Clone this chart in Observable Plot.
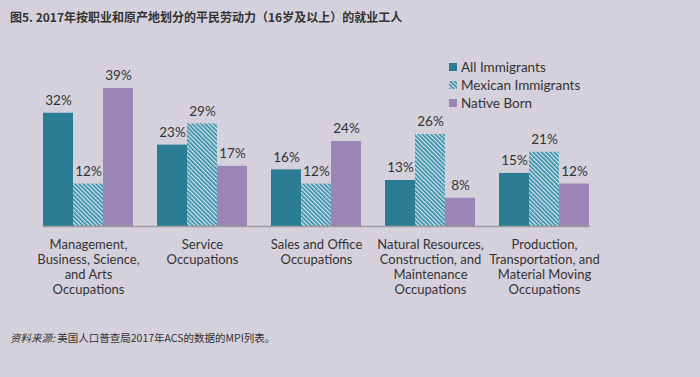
<!DOCTYPE html>
<html>
<head>
<meta charset="utf-8">
<script src="https://cdn.jsdelivr.net/npm/d3@7"></script>
<script src="https://cdn.jsdelivr.net/npm/@observablehq/plot@0.6"></script>
<style>
  html, body { margin: 0; padding: 0; background: #d5d1dc; }
  #wrap { position: relative; width: 700px; height: 377px; background: #d5d1dc; overflow: hidden; }
  #title { height: 34px; line-height: 34px; padding-left: 10px; font-family: "Noto Sans CJK SC", sans-serif; font-weight: bold; font-size: 12px; color: #333; white-space: nowrap; }
  #caption { height: 28px; line-height: 28px; padding-left: 10px; font-family: "Noto Sans CJK SC", sans-serif; font-size: 10.5px; color: #333; white-space: nowrap; }
  #caption i { font-style: italic; }
  #legend { position: absolute; left: 449px; top: 58px; font-family: Lato, sans-serif; font-size: 13.5px; color: #333; }
  #legend .row { height: 18px; line-height: 18px; display: flex; align-items: center; }
  #legend svg { margin-right: 4px; }
  svg.plot { display: block; }
</style>
</head>
<body>
<div id="wrap">
  <div id="title">图5. 2017年按职业和原产地划分的平民劳动力（16岁及以上）的就业工人</div>
  <div id="chart"></div>
  <div id="caption"><i>资料来源:</i> 美国人口普查局2017年ACS的数据的MPI列表。</div>
  <div id="legend"></div>
</div>
<script>
const groups = [
  "Management,\nBusiness, Science,\nand Arts\nOccupations",
  "Service\nOccupations",
  "Sales and Office\nOccupations",
  "Natural Resources,\nConstruction, and\nMaintenance\nOccupations",
  "Production,\nTransportation, and\nMaterial Moving\nOccupations"
];
const series = ["All Immigrants", "Mexican Immigrants", "Native Born"];
const allImmigrants = [32, 23, 16, 13, 15];
const mexicanImmigrants = [12, 29, 12, 26, 21];
const nativeBorn = [39, 17, 24, 8, 12];
const colors = ["#2a7d95", "url(#hatch)", "#9a85b6"];

const seriesValues = [allImmigrants, mexicanImmigrants, nativeBorn];
const rows = [];
groups.forEach((g, i) => series.forEach((s, j) => rows.push({group: g, series: s, value: seriesValues[j][i]})));

const plot = Plot.plot({
  width: 700,
  height: 290,
  marginLeft: 30,
  marginRight: 98,
  marginTop: 54,
  marginBottom: 98,
  style: {background: "transparent", fontFamily: "Lato, sans-serif", color: "#333"},
  fx: {domain: groups, paddingInner: 0.21, paddingOuter: 0.107, axis: null},
  x: {domain: series, padding: 0, axis: null},
  y: {domain: [0, d3.max(rows, d => d.value)], axis: null},
  color: {domain: series, range: colors},
  marks: [
    Plot.barY(rows, {fx: "group", x: "series", y: "value", fill: "series"}),
    Plot.text(rows, {fx: "group", x: "series", y: "value", text: d => d.value + "%", dy: -12.5, fontSize: 13.5, fill: "#333"}),
    Plot.text(groups, {fx: d => d, text: d => d, frameAnchor: "bottom", lineAnchor: "top", dy: 11.5, fontSize: 13, lineHeight: 1.17, fill: "#333"}),
    Plot.frame({facet: "super", anchor: "bottom", stroke: "#9c9c9c", strokeWidth: 1.5})
  ]
});

const ns = "http://www.w3.org/2000/svg";
const defs = document.createElementNS(ns, "defs");
defs.innerHTML = `<pattern id="hatch" patternUnits="userSpaceOnUse" width="3" height="3" patternTransform="rotate(-45)">
  <rect width="3" height="3" fill="#cfe3ec"></rect>
  <rect width="1.6" height="3" fill="#3288a2"></rect>
</pattern>`;
plot.insertBefore(defs, plot.firstChild);
document.getElementById("chart").appendChild(plot);

const legend = document.getElementById("legend");
series.forEach((s, j) => {
  const row = document.createElement("div");
  row.className = "row";
  row.innerHTML = `<svg width="8" height="8"><rect width="8" height="8" fill="${colors[j]}"></rect></svg><span>${s}</span>`;
  legend.appendChild(row);
});
</script>
</body>
</html>
